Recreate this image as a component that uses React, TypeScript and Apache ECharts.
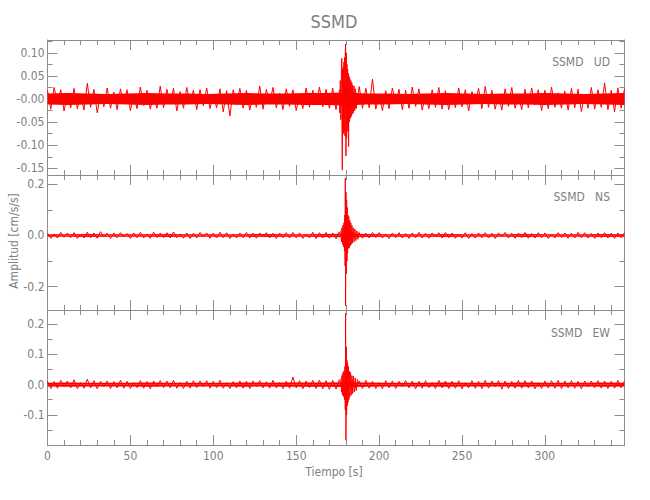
import React, { useEffect, useRef } from "react";
import * as echarts from "echarts";

// ---------------- data ----------------
const chartTitle = "SSMD";
const station = "SSMD";
const channels = ["UD", "NS", "EW"];
const timeMax = 348; // s
const noiseStep = 2; // s between noise samples
const bandStep = 12; // s between band samples

// amplitude ranges of each panel [cm/s/s]
const udRange = [-0.1645, 0.1277];
const nsRange = [-0.292, 0.237];
const ewRange = [-0.2, 0.247];

// background noise, sampled every 2 s from t = 0
const udNoise = [
  0.018, -0.022, 0.025, -0.009, 0.02, -0.026, 0.012, -0.019, 0.023, -0.021, 0.008, -0.024,
  0.034, -0.018, 0.021, -0.03, 0.011, -0.017, 0.024, -0.02, 0.015, -0.023, 0.022, -0.01,
  0.02, -0.025, 0.009, -0.021, 0.026, -0.014, 0.019, -0.022, 0.012, -0.02, 0.028, -0.019,
  0.021, -0.011, 0.023, -0.026, 0.016, -0.02, 0.025, -0.009, 0.019, -0.023, 0.02, -0.015,
  0.024, -0.021, 0.01, -0.019, 0.022, -0.028, 0.018, -0.037, 0.02, -0.012, 0.023, -0.02,
  0.019, -0.024, 0.011, -0.018, 0.028, -0.022, 0.021, -0.01, 0.025, -0.019, 0.013, -0.023,
  0.022, -0.016, 0.02, -0.025, 0.009, -0.021, 0.024, -0.018, 0.019, -0.012, 0.026, -0.017,
  0.021, -0.02, 0.024, -0.023, 0.012, -0.019, 0.025, -0.024, 0.022, -0.021, 0.027, -0.02,
  0.023, -0.019, 0.043, -0.022, 0.01, -0.025, 0.018, -0.021, 0.024, -0.011, 0.021, -0.023,
  0.019, -0.02, 0.026, -0.016, 0.022, -0.024, 0.009, -0.021, 0.02, -0.018, 0.025, -0.022,
  0.018, -0.023, 0.012, -0.019, 0.024, -0.017, 0.02, -0.026, 0.016, -0.01, 0.023, -0.021,
  0.027, -0.018, 0.019, -0.022, 0.011, -0.024, 0.022, -0.016, 0.025, -0.02, 0.009, -0.023,
  0.021, -0.019, 0.024, -0.012, 0.02, -0.025, 0.019, -0.021, 0.026, -0.018, 0.013, -0.02,
  0.017, -0.024, 0.023, -0.019, 0.021, -0.027, 0.01, -0.02, 0.025, -0.022, 0.02, -0.018,
  0.035, -0.023, 0.019, -0.028, 0.024, -0.02, 0.022,
];
const nsNoise = [
  0.009, -0.011, 0.006, -0.01, 0.012, -0.007, 0.01, -0.009, 0.011, -0.012, 0.005, -0.01,
  0.013, -0.009, 0.01, -0.011, 0.015, -0.006, 0.009, -0.012, 0.01, -0.009, 0.011, -0.006,
  0.008, -0.012, 0.01, -0.009, 0.012, -0.01, 0.006, -0.011, 0.013, -0.008, 0.01, -0.009,
  0.011, -0.01, 0.014, -0.009, 0.006, -0.011, 0.01, -0.012, 0.009, -0.01, 0.012, -0.006,
  0.01, -0.011, 0.009, -0.01, 0.013, -0.009, 0.011, -0.012, 0.006, -0.01, 0.01, -0.009,
  0.012, -0.01, 0.009, -0.011, 0.01, -0.006, 0.011, -0.01, 0.009, -0.012, 0.01, -0.009,
  0.011, -0.01, 0.012, -0.009, 0.01, -0.011, 0.006, -0.01, 0.013, -0.012, 0.011, -0.01,
  0.012, -0.011, 0.01, -0.013, 0.014, -0.012, 0.011, -0.01, 0.012, -0.006, 0.01, -0.011,
  0.009, -0.01, 0.012, -0.008, 0.011, -0.01, 0.006, -0.012, 0.01, -0.009, 0.011, -0.01,
  0.008, -0.011, 0.01, -0.009, 0.012, -0.01, 0.009, -0.011, 0.01, -0.006, 0.011, -0.01,
  0.012, -0.009, 0.01, -0.011, 0.006, -0.01, 0.011, -0.012, 0.008, -0.01, 0.01, -0.009,
  0.011, -0.01, 0.009, -0.012, 0.01, -0.006, 0.012, -0.01, 0.009, -0.011, 0.01, -0.009,
  0.012, -0.011, 0.008, -0.01, 0.011, -0.009, 0.01, -0.012, 0.006, -0.01, 0.011, -0.008,
  0.01, -0.011, 0.009, -0.01, 0.012, -0.009, 0.011, -0.01, 0.008, -0.012, 0.01, -0.009,
  0.011, -0.01, 0.009, -0.012, 0.01, -0.009, 0.011,
];
const ewNoise = [
  0.011, -0.013, 0.01, -0.012, 0.014, -0.007, 0.012, -0.011, 0.016, -0.013, 0.007, -0.012,
  0.018, -0.011, 0.013, -0.014, 0.011, -0.007, 0.012, -0.013, 0.01, -0.011, 0.014, -0.012,
  0.011, -0.013, 0.007, -0.01, 0.013, -0.012, 0.01, -0.014, 0.012, -0.007, 0.013, -0.01,
  0.012, -0.011, 0.014, -0.012, 0.007, -0.013, 0.011, -0.012, 0.013, -0.01, 0.012, -0.007,
  0.013, -0.012, 0.011, -0.01, 0.014, -0.012, 0.007, -0.013, 0.01, -0.011, 0.012, -0.012,
  0.011, -0.013, 0.012, -0.007, 0.013, -0.011, 0.01, -0.012, 0.014, -0.011, 0.007, -0.013,
  0.011, -0.012, 0.025, -0.011, 0.013, -0.014, 0.012, -0.01, 0.014, -0.013, 0.015, -0.014,
  0.013, -0.016, 0.014, -0.015, 0.016, -0.013, 0.014, -0.012, 0.013, -0.011, 0.012, -0.013,
  0.014, -0.012, 0.011, -0.013, 0.007, -0.014, 0.013, -0.011, 0.012, -0.013, 0.011, -0.007,
  0.013, -0.011, 0.012, -0.014, 0.011, -0.012, 0.013, -0.01, 0.007, -0.013, 0.014, -0.011,
  0.012, -0.013, 0.011, -0.012, 0.013, -0.014, 0.007, -0.011, 0.013, -0.012, 0.011, -0.013,
  0.014, -0.012, 0.012, -0.007, 0.013, -0.015, 0.012, -0.013, 0.011, -0.012, 0.014, -0.012,
  0.013, -0.011, 0.012, -0.014, 0.007, -0.013, 0.012, -0.011, 0.013, -0.012, 0.014, -0.013,
  0.012, -0.011, 0.013, -0.012, 0.011, -0.014, 0.012, -0.007, 0.012, -0.011, 0.013, -0.012,
  0.012, -0.013, 0.011, -0.012, 0.014, -0.011, 0.012,
];

// half-width of the dense core of the noise band, every 12 s from t = 0
const udCore = [0.012, 0.013, 0.012, 0.011, 0.012, 0.013, 0.012, 0.012, 0.011, 0.012, 0.013, 0.012, 0.012, 0.013, 0.013, 0.014, 0.012, 0.012, 0.011, 0.012, 0.013, 0.012, 0.011, 0.012, 0.012, 0.013, 0.012, 0.011, 0.012, 0.013];
const nsCore = [0.005, 0.005, 0.006, 0.005, 0.005, 0.005, 0.006, 0.005, 0.005, 0.005, 0.005, 0.006, 0.005, 0.005, 0.006, 0.007, 0.006, 0.005, 0.005, 0.005, 0.006, 0.005, 0.005, 0.005, 0.006, 0.005, 0.005, 0.005, 0.006, 0.005];
const ewCore = [0.006, 0.007, 0.006, 0.006, 0.006, 0.007, 0.006, 0.006, 0.006, 0.006, 0.007, 0.006, 0.007, 0.007, 0.007, 0.008, 0.007, 0.006, 0.006, 0.006, 0.007, 0.006, 0.006, 0.006, 0.007, 0.006, 0.006, 0.006, 0.007, 0.006];

// strong-motion part around 180 s
const udEventTime = [176.0, 176.3, 176.6, 176.9, 177.2, 177.5, 177.6, 177.8, 178.0, 178.2, 178.4, 178.6, 178.8, 179.0, 179.2, 179.4, 179.6, 179.8, 180.0, 180.2, 180.4, 180.6, 180.8, 181.0, 181.2, 181.4, 181.6, 181.8, 182.0, 182.3, 182.6, 182.9, 183.2, 183.5, 183.8, 184.1, 184.5, 184.9, 185.3, 185.8, 186.3];
const udEventValue = [0.02, -0.03, 0.04, -0.045, 0.05, 0.088, -0.06, -0.154, 0.065, -0.07, 0.07, -0.075, 0.08, -0.07, 0.09, -0.08, 0.1, 0.119, -0.123, 0.1, -0.085, 0.075, -0.07, 0.065, -0.06, 0.056, -0.103, 0.05, -0.05, 0.045, -0.042, 0.04, -0.038, 0.036, -0.033, 0.03, -0.03, 0.028, -0.025, 0.022, -0.02];
const nsEventTime = [177.0, 177.3, 177.6, 177.9, 178.2, 178.5, 178.8, 179.1, 179.3, 179.5, 179.6, 179.8, 180.0, 180.2, 180.4, 180.6, 180.8, 181.0, 181.2, 181.4, 181.7, 182.0, 182.3, 182.6, 182.9, 183.2, 183.6, 184.0, 184.4, 184.9, 185.4, 186.0, 186.6, 187.2, 188.0];
const nsEventValue = [0.02, -0.025, 0.03, -0.035, 0.04, -0.045, 0.05, -0.06, 0.08, -0.12, 0.224, -0.276, 0.17, -0.15, 0.14, -0.1, 0.11, -0.07, 0.08, -0.05, 0.074, -0.05, 0.06, -0.04, 0.05, -0.035, 0.04, -0.03, 0.03, -0.025, 0.025, -0.02, 0.018, -0.015, 0.015];
const ewEventTime = [177.0, 177.3, 177.6, 177.9, 178.2, 178.5, 178.8, 179.1, 179.4, 179.6, 179.8, 180.0, 180.2, 180.4, 180.6, 180.8, 181.0, 181.2, 181.5, 181.8, 182.1, 182.4, 182.8, 183.2, 183.6, 184.0, 184.5, 185.0, 185.6, 186.2, 187.0];
const ewEventValue = [0.02, -0.025, 0.03, -0.035, 0.04, -0.04, 0.045, -0.05, 0.06, -0.084, 0.236, -0.184, 0.125, -0.1, 0.081, -0.07, 0.07, -0.06, 0.06, -0.05, 0.045, -0.04, 0.04, -0.035, 0.03, -0.03, 0.028, -0.025, 0.022, -0.02, 0.018];

const xName = "Tiempo [s]";
const yName = "Amplitud [cm/s/s]";

// ---------------- styling ----------------
const RED = "#ff0000";
const AXIS = "#8c8c8c";
const TEXT = "#808080";
const FONT = "'Liberation Sans Narrow', 'DejaVu Sans Condensed', 'Roboto Condensed', 'Liberation Sans', sans-serif";
const GRID_LEFT = 47.5;
const GRID_WIDTH = 577;
const GRID_TOPS = [40, 175, 310];
const GRID_H = 135;

const fmt2 = (v: number) => (Math.abs(v) < 1e-9 ? "-0.00" : (v < 0 ? "-" : "") + Math.abs(v).toFixed(2));
const fmt1 = (v: number) => (Math.abs(v) < 1e-9 ? "0.0" : (v < 0 ? "-" : "") + Math.abs(v).toFixed(1));

const panels = [
  { ch: channels[0], noise: udNoise, core: udCore, evT: udEventTime, evV: udEventValue, range: udRange, split: 5, fmt: fmt2 },
  { ch: channels[1], noise: nsNoise, core: nsCore, evT: nsEventTime, evV: nsEventValue, range: nsRange, split: 3, fmt: fmt1 },
  { ch: channels[2], noise: ewNoise, core: ewCore, evT: ewEventTime, evV: ewEventValue, range: ewRange, split: 5, fmt: fmt1 },
];

function buildOption() {
  const grid = GRID_TOPS.map((t) => ({ left: GRID_LEFT, width: GRID_WIDTH, top: t, height: GRID_H }));
  const xAxis: any[] = [];
  const yAxis: any[] = [];
  const series: any[] = [];
  ["bottom", "top"].forEach((pos) => {
    panels.forEach((_, i) => {
      xAxis.push({
        type: "value",
        gridIndex: i,
        position: pos,
        min: 0,
        max: timeMax,
        interval: 50,
        axisLine: { show: true, onZero: false, lineStyle: { color: AXIS, width: 1 } },
        axisTick: { show: true, inside: true, length: 10, lineStyle: { color: AXIS } },
        minorTick: { show: true, splitNumber: 5, length: 5, lineStyle: { color: AXIS } },
        splitLine: { show: false },
        axisLabel: {
          show: pos === "bottom" && i === 2,
          showMaxLabel: false,
          color: TEXT,
          fontSize: 12,
          fontFamily: FONT,
          margin: 5,
        },
      });
    });
  });
  ["left", "right"].forEach((pos) => {
    panels.forEach((p, i) => {
      yAxis.push({
        type: "value",
        gridIndex: i,
        position: pos,
        min: p.range[0],
        max: p.range[1],
        splitNumber: p.split,
        axisLine: { show: true, onZero: false, lineStyle: { color: AXIS, width: 1 } },
        axisTick: { show: true, inside: true, length: 10, lineStyle: { color: AXIS } },
        minorTick: { show: true, splitNumber: 2, length: 5, lineStyle: { color: AXIS } },
        splitLine: { show: false },
        axisLabel: {
          show: pos === "left",
          showMinLabel: false,
          showMaxLabel: false,
          color: TEXT,
          fontSize: 12,
          fontFamily: FONT,
          margin: 3,
          formatter: p.fmt,
        },
      });
    });
  });
  panels.forEach((p, i) => {
    const common = { type: "line", xAxisIndex: i, yAxisIndex: i, symbol: "none", silent: true, clip: true };
    const band = (arr: number[], sign: number) => ({
      ...common,
      data: arr.map((v, k) => [k * bandStep, sign * v]),
      lineStyle: { width: 0 },
      areaStyle: { color: RED, opacity: 1 },
    });
    series.push(band(p.core, 1));
    series.push(band(p.core, -1));
    series.push({
      ...common,
      data: p.noise.map((v, k) => [k * noiseStep, v]),
      lineStyle: { color: RED, width: 1 },
    });
    series.push({
      ...common,
      data: p.evT.map((t, k) => [t, p.evV[k]]),
      lineStyle: { color: RED, width: 1 },
    });
  });

  const graphic: any[] = [
    {
      type: "text",
      x: 334,
      y: 21,
      style: { text: chartTitle, fill: TEXT, fontSize: 18, fontFamily: FONT, align: "center", verticalAlign: "middle", textAlign: "center", textVerticalAlign: "middle" },
    },
    {
      type: "text",
      x: 334,
      y: 472,
      style: { text: xName, fill: TEXT, fontSize: 12, fontFamily: FONT, align: "center", verticalAlign: "middle", textAlign: "center", textVerticalAlign: "middle" },
    },
    {
      type: "text",
      x: 14,
      y: 241,
      rotation: Math.PI / 2,
      style: { text: yName, fill: TEXT, fontSize: 12, fontFamily: FONT, align: "center", verticalAlign: "middle", textAlign: "center", textVerticalAlign: "middle" },
    },
  ];
  const labelYs = [62, 197, 333];
  panels.forEach((p, i) => {
    graphic.push({
      type: "text",
      x: 610,
      y: labelYs[i],
      style: { text: station + "   " + p.ch, fill: TEXT, fontSize: 12, fontFamily: FONT, align: "right", verticalAlign: "middle", textAlign: "right", textVerticalAlign: "middle" },
    });
  });

  return { animation: false, backgroundColor: "#ffffff", grid, xAxis, yAxis, series, graphic };
}

export default function App() {
  const ref = useRef<HTMLDivElement>(null);
  useEffect(() => {
    if (!ref.current) return;
    const chart = echarts.init(ref.current, null, { renderer: "svg" });
    chart.setOption(buildOption() as any);
    return () => chart.dispose();
  }, []);
  return (
    <div
      ref={ref}
      style={{ position: "fixed", left: 0, top: 0, width: 650, height: 500, background: "#fff" }}
    />
  );
}
